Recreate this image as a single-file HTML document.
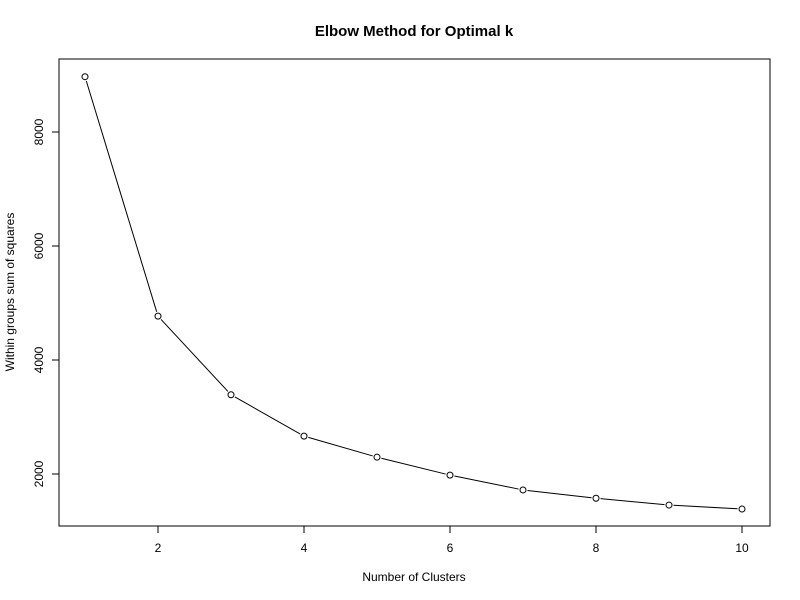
<!DOCTYPE html>
<html><head><meta charset="utf-8"><style>
body{margin:0;background:#fff;}
svg{display:block;font-family:"Liberation Sans",Arial,sans-serif;}
</style></head><body>
<svg id="chart" width="800" height="600">
<rect x="0" y="0" width="800" height="600" fill="#fff"/>
<text x="414" y="36" text-anchor="middle" font-size="15" font-weight="bold">Elbow Method for Optimal k</text>
<rect x="59" y="59" width="711" height="467" fill="none" stroke="#000" stroke-width="1"/>
<text x="414" y="581" text-anchor="middle" font-size="12">Number of Clusters</text>
<text transform="translate(14,292) rotate(-90)" text-anchor="middle" font-size="12">Within groups sum of squares</text>
<g id="axes"></g>
<g id="marks"></g>
</svg>
<script>
const clusters = [1,2,3,4,5,6,7,8,9,10];
const wss = [8970,4770,3390,2665,2295,1980,1720,1575,1455,1385];
const xTicks = [2,4,6,8,10];
const yTicks = [2000,4000,6000,8000];
const NS='http://www.w3.org/2000/svg';
function xs(v){return 85+(v-1)*73;}
function ys(v){return 474-(v-2000)*0.057;}
const axes=document.getElementById('axes');
const marks=document.getElementById('marks');
function mk(tag,attrs,parent){const e=document.createElementNS(NS,tag);for(const k in attrs)e.setAttribute(k,attrs[k]);parent.appendChild(e);return e;}
mk('line',{x1:xs(2),x2:xs(10),y1:526,y2:526,stroke:'#000'},axes);
xTicks.forEach(t=>{
  const l=mk('line',{x1:xs(t),x2:xs(t),y1:526,y2:533,stroke:'#000'},axes);
  
  
  const tx=mk('text',{x:xs(t),y:552,'text-anchor':'middle','font-size':12},axes);
  tx.textContent=t;
  
  
});
mk('line',{x1:59,x2:59,y1:ys(2000),y2:ys(8000),stroke:'#000'},axes);
yTicks.forEach(t=>{
  const l=mk('line',{x1:52,x2:59,y1:ys(t),y2:ys(t),stroke:'#000'},axes);
  
  
  const tx=mk('text',{transform:`translate(43,${ys(t)}) rotate(-90)`,'text-anchor':'middle','font-size':12},axes);
  tx.textContent=t;
  
  
});
for(let i=0;i<clusters.length-1;i++){
  const x1=xs(clusters[i]),y1=ys(wss[i]),x2=xs(clusters[i+1]),y2=ys(wss[i+1]);
  const dx=x2-x1,dy=y2-y1,d=Math.hypot(dx,dy),g=4.5/d;
  const l=mk('line',{x1:x1+dx*g,y1:y1+dy*g,x2:x2-dx*g,y2:y2-dy*g,stroke:'#000'},marks);
  
  
}
clusters.forEach((c,i)=>{
  const p=mk('circle',{cx:xs(c),cy:ys(wss[i]),r:3,fill:'none',stroke:'#000'},marks);
  
  
});
</script>
</body></html>
